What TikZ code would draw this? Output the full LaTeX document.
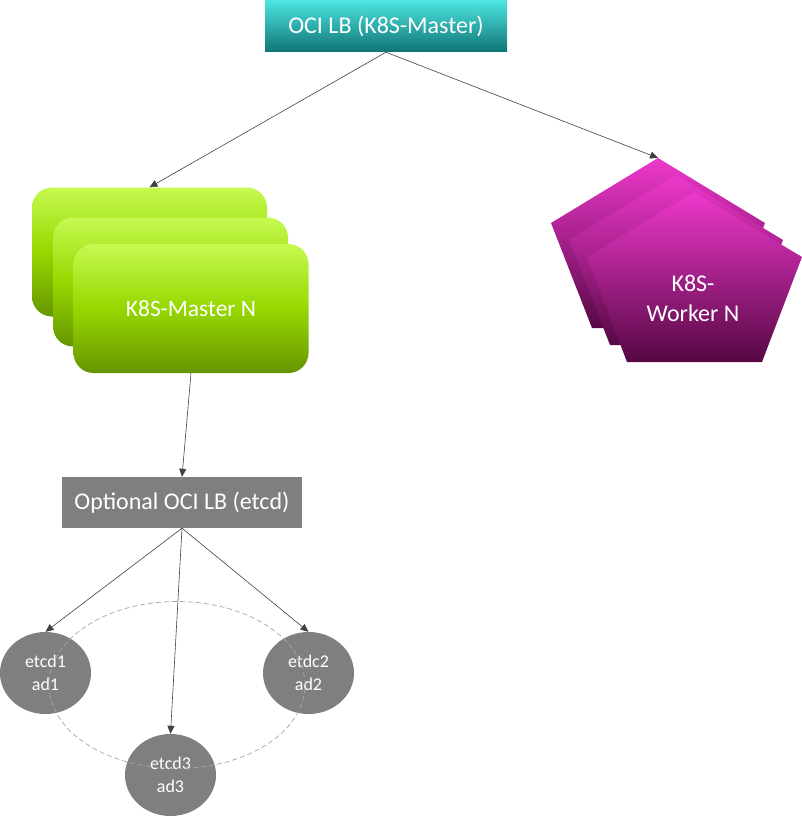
\documentclass[tikz,border=0pt]{standalone}
\usepackage{fontspec}
\setmainfont{Carlito}
\usetikzlibrary{arrows.meta,shapes.geometric}
\definecolor{tealtop}{HTML}{4EE6E3}
\definecolor{tealbot}{HTML}{0F7474}
\definecolor{limetop}{HTML}{C6FA50}
\definecolor{limemid}{HTML}{96D800}
\definecolor{limebot}{HTML}{679500}
\definecolor{magtop}{HTML}{EE38CC}
\definecolor{magbot}{HTML}{560844}
\definecolor{boxgrey}{HTML}{7F7F7F}
\definecolor{linegrey}{HTML}{404040}
\tikzset{
  lbbox/.style={draw=none, inner sep=0pt, text=white},
  master/.style={rounded corners=20pt, minimum width=235pt, minimum height=129pt,
    top color=limetop, bottom color=limebot, middle color=limemid, inner sep=0pt, text=white,
    font=\fontsize{23.5}{28}\selectfont},
  worker/.style={top color=magtop, bottom color=magbot},
  etcdnode/.style={ellipse, fill=boxgrey, minimum width=91pt, minimum height=82pt, inner sep=0pt,
    text=white, align=center, font=\fontsize{18}{23}\selectfont},
  conn/.style={draw=linegrey, line width=0.6pt, -{Triangle[length=8pt,width=7pt]}},
}
\begin{document}
\begin{tikzpicture}[x=1pt,y=-1pt]
\useasboundingbox (0,0) rectangle (802,816);
% top LB
\node[lbbox, minimum width=242pt, minimum height=52pt, top color=tealtop, bottom color=tealbot,
  font=\fontsize{24}{28}\selectfont] (lb) at (386,26) {OCI LB (K8S-Master)};
% masters
\node[master] (m1) at (149.5,252) {};
\node[master] (m2) at (170.5,282) {};
\node[master] (m3) at (191,308.5) {K8S-Master N};
% workers
\shade[worker] (658,158) -- (765,223) -- (725,328) -- (592,328) -- (551,223) -- cycle;
\shade[worker] (676,175) -- (783,240) -- (743,345) -- (610,345) -- (569,240) -- cycle;
\shade[worker] (694,192) -- (802,257) -- (762,362) -- (627,362) -- (587,257) -- cycle;
\coordinate (w1) at (658,158);
\node[text=white, align=center, font=\fontsize{24}{30}\selectfont] (wtext) at (693,298) {K8S-\\Worker N};
% etcd LB
\node[lbbox, fill=boxgrey, minimum width=240pt, minimum height=51pt,
  font=\fontsize{24}{28}\selectfont] (elb) at (182,502.5) {Optional OCI LB (etcd)};
% etcd nodes
\node[etcdnode] (e1) at (45.5,673) {etcd1\\ad1};
\node[etcdnode] (e2) at (308.5,673) {etdc2\\ad2};
\node[etcdnode] (e3) at (170.5,775) {etcd3\\ad3};
\node[ellipse, draw=black!35, dashed, dash pattern=on 5pt off 3pt, line width=0.7pt,
  minimum width=256pt, minimum height=167pt, inner sep=0pt] (ring) at (177,685) {};
% connectors
\draw[conn] (lb.south) -- (m1.north);
\draw[conn] (lb.south) -- (w1);
\draw[conn] (m3.south) -- (elb.north);
\draw[conn] (elb.south) -- (e1.north);
\draw[conn] (elb.south) -- (e3.north);
\draw[conn] (elb.south) -- (e2.north);
\end{tikzpicture}
\end{document}
